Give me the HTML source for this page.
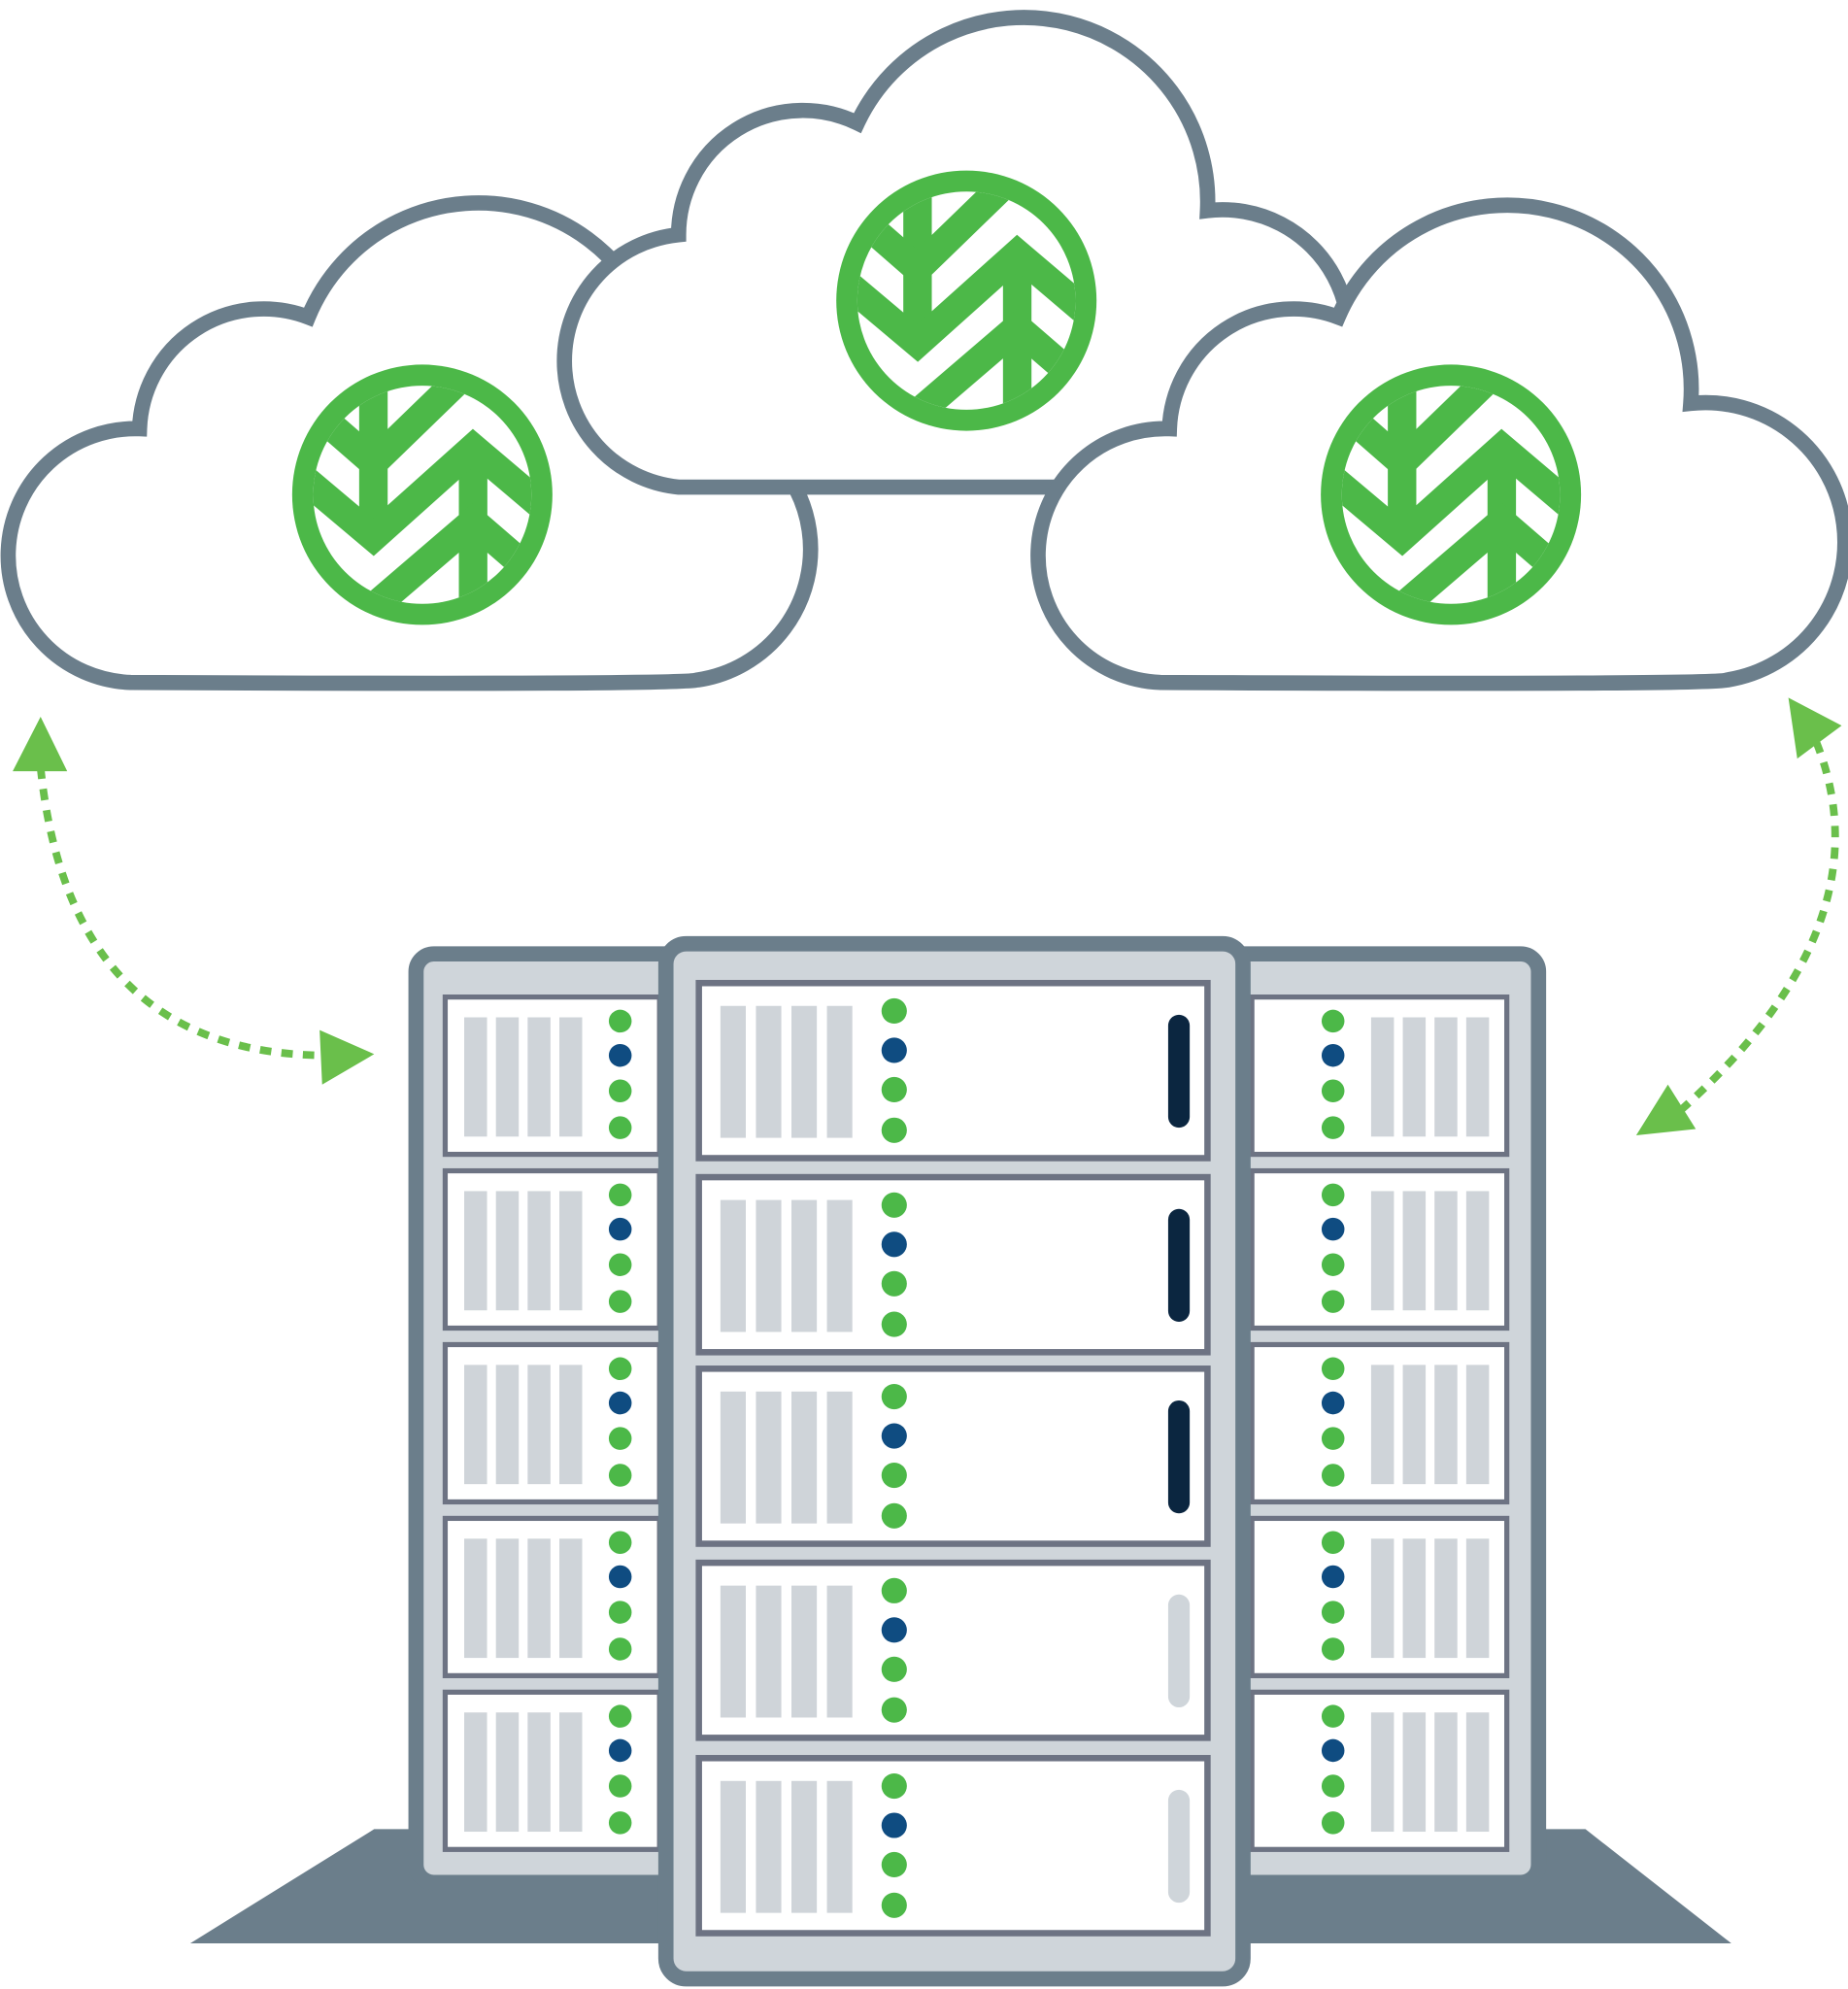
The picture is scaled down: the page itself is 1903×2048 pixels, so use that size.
<!DOCTYPE html>
<html><head><meta charset="utf-8"><style>html,body{margin:0;padding:0;background:#fff}svg{display:block}</style></head>
<body>
<svg id="s" width="1903" height="2048" viewBox="0 0 1457 1568" xmlns="http://www.w3.org/2000/svg">
<defs>
<clipPath id="lc"><circle cx="432" cy="417" r="337"/></clipPath>
<g id="logo">
<circle cx="432" cy="417" r="402" fill="#4cb848"/>
<circle cx="432" cy="417" r="337" fill="#fff"/>
<g clip-path="url(#lc)" stroke="#4cb848" fill="none" stroke-width="88" stroke-linejoin="miter">
<line x1="281" y1="0" x2="281" y2="548"/>
<line x1="589" y1="268" x2="589" y2="850"/>
<polyline points="40,345 281,548 589,272 840,485"/>
<polyline points="100,160 281,318 580,28"/>
<polyline points="230,808 589,500 780,665"/>
</g>
</g>
</defs>
<g fill="#fff" stroke="#6b7e8b" stroke-width="12">
<path d="M103 538 A100 100 0 0 1 110 338 A98 98 0 0 1 243 250 A145 145 0 0 1 520 330 A100 100 0 0 1 550 536 Q540 540 103 538 Z"/>
<path d="M535 384 A100 100 0 0 1 535 185 A98 98 0 0 1 676 97 A145 145 0 0 1 952 166 A100 100 0 0 1 1040 330 L1000 384 Z"/>
<path d="M915 538 A100 100 0 0 1 922 338 A98 98 0 0 1 1055 250 A145 145 0 0 1 1333 318 A110 110 0 0 1 1362 536 Q1352 540 915 538 Z"/>
</g>
<use href="#logo" transform="translate(222.7,283.6) scale(0.2552)"/>
<use href="#logo" transform="translate(651.7,130.6) scale(0.2552)"/>
<use href="#logo" transform="translate(1033.7,283.6) scale(0.2552)"/>
<g fill="none" stroke="#6abf4b" stroke-width="6" stroke-dasharray="9 8">
<path d="M32 605 Q55 830 255 832"/>
<path d="M1432 585 Q1490 730 1322 878"/>
</g>
<g fill="#6abf4b">
<polygon points="10,608 53,608 32,565"/>
<polygon points="252,812 295,831 254,855"/>
<polygon points="1410,550 1452,572 1417,598"/>
<polygon points="1315,855 1337,890 1290,895"/>
</g>
<polygon points="295,1442 1250,1442 1365,1532 150,1532" fill="#6b7e8b"/>
<rect x="328" y="752" width="885" height="732" rx="14" fill="#cfd5da" stroke="#6b7e8b" stroke-width="12"/>
<g id="back"></g>
<rect x="525" y="744" width="455" height="816" rx="16" fill="#cfd5da" stroke="#6b7e8b" stroke-width="12"/>
<g id="front"></g>
</svg>
<script>
var NS="http://www.w3.org/2000/svg";
function el(p,t,a){var e=document.createElementNS(NS,t);for(var k in a)e.setAttribute(k,a[k]);p.appendChild(e);return e;}
var G="#4cb848",B="#0f4c81";
var back=document.getElementById("back");
var tops=[786,923,1060,1197,1334];
tops.forEach(function(t){
 el(back,"rect",{x:351,y:t,width:169,height:124,fill:"#fff",stroke:"#6d7383","stroke-width":4});
 el(back,"rect",{x:987,y:t,width:201,height:124,fill:"#fff",stroke:"#6d7383","stroke-width":4});
 [366,391,416,441].forEach(function(x){el(back,"rect",{x:x,y:t+16,width:18,height:94,fill:"#cfd4d9"});});
 [1081,1106,1131,1156].forEach(function(x){el(back,"rect",{x:x,y:t+16,width:18,height:94,fill:"#cfd4d9"});});
 [[19,G],[46,B],[74,G],[103,G]].forEach(function(d){
  el(back,"circle",{cx:489,cy:t+d[0],r:9,fill:d[1]});
  el(back,"circle",{cx:1051,cy:t+d[0],r:9,fill:d[1]});
 });
});
var front=document.getElementById("front");
[775,928,1079,1232,1386].forEach(function(t,i){
 el(front,"rect",{x:551,y:t,width:401,height:138,fill:"#fff",stroke:"#6d7383","stroke-width":5});
 [568,596,624,652].forEach(function(x){el(front,"rect",{x:x,y:t+18,width:20,height:104,fill:"#cfd4d9"});});
 [[22,G],[53,B],[84,G],[116,G]].forEach(function(d){el(front,"circle",{cx:705,cy:t+d[0],r:10,fill:d[1]});});
 el(front,"rect",{x:921,y:t+25,width:17,height:89,rx:8.5,fill:i<3?"#0b2640":"#cfd5da"});
});
</script>
</body></html>
